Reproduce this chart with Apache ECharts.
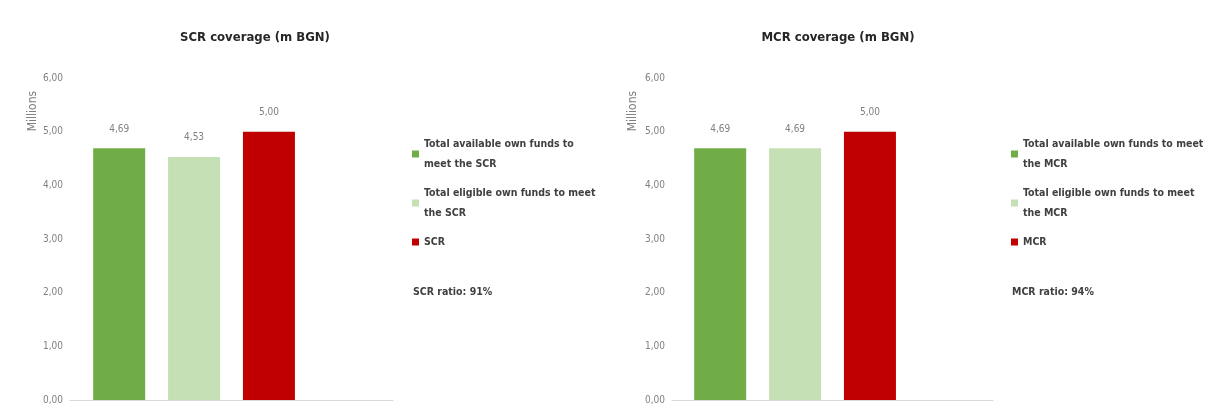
<!DOCTYPE html>
<html>
<head>
<meta charset="utf-8">
<script src="https://cdn.jsdelivr.net/npm/echarts@6/dist/echarts.min.js"></script>
<style>
  html, body { margin: 0; padding: 0; background: #fff; }
  #main { width: 1213px; height: 416px; }
</style>
</head>
<body>
<div id="main"></div>
<script>
// values in millions BGN
const scrNames = ['Total available own funds to meet the SCR', 'Total eligible own funds to meet the SCR', 'SCR'];
const scrValues = [4.69, 4.53, 5.00];
const mcrNames = ['Total available own funds to meet the MCR', 'Total eligible own funds to meet the MCR', 'MCR'];
const mcrValues = [4.69, 4.69, 5.00];
const barColors = ['#70AD47', '#C5E0B4', '#C00000'];
const scrRatio = 'SCR ratio: 91%';
const mcrRatio = 'MCR ratio: 94%';

// line breaks as in the picture
const wraps = {
  'Total available own funds to meet the SCR': 'Total available own funds to\nmeet the SCR',
  'Total eligible own funds to meet the SCR': 'Total eligible own funds to meet\nthe SCR',
  'Total available own funds to meet the MCR': 'Total available own funds to meet\nthe MCR',
  'Total eligible own funds to meet the MCR': 'Total eligible own funds to meet\nthe MCR'
};

const font = "'DejaVu Sans Condensed', 'Liberation Sans', sans-serif";
const fmt = v => v.toFixed(2).replace('.', ',');

function yAxis(idx) {
  return {
    type: 'value', gridIndex: idx, min: 0, max: 6, interval: 1,
    axisLine: { show: false }, axisTick: { show: false },
    splitLine: { show: false },
    axisLabel: { formatter: fmt, color: '#808080', fontSize: 10, fontFamily: font, margin: 7 }
  };
}
function xAxis(idx) {
  return {
    type: 'category', gridIndex: idx, data: [''],
    axisLine: { lineStyle: { color: '#D9D9D9' } },
    axisTick: { show: false }, axisLabel: { show: false }
  };
}
function barSeries(names, values, idx) {
  const s = names.map((n, i) => ({
    name: n, type: 'bar', xAxisIndex: idx, yAxisIndex: idx,
    barWidth: 52, barGap: '44%',
    itemStyle: { color: barColors[i] },
    label: { show: true, position: 'top', distance: 14, formatter: p => fmt(p.value),
             color: '#808080', fontSize: 10, fontFamily: font },
    data: [values[i]]
  }));
  // empty 4th slot (ratio entry of the original legend)
  s.push({ name: 'ratio' + idx, type: 'bar', xAxisIndex: idx, yAxisIndex: idx,
           barWidth: 52, barGap: '44%', data: [null] });
  return s;
}
function legend(names, left) {
  return {
    orient: 'vertical', left: left, top: 134, itemGap: 9, padding: 0,
    itemWidth: 7, itemHeight: 7, icon: 'rect', data: names,
    formatter: n => wraps[n] || n,
    textStyle: { color: '#404040', fontSize: 10.5, fontWeight: 'bold', fontFamily: font, lineHeight: 20 }
  };
}

const chart = echarts.init(document.getElementById('main'));
chart.setOption({
  animation: false,
  title: [
    { text: 'SCR coverage (m BGN)', left: 250, top: 26, textAlign: 'center',
      textStyle: { fontSize: 13, fontWeight: 'bold', color: '#262626', fontFamily: font } },
    { text: 'MCR coverage (m BGN)', left: 833, top: 26, textAlign: 'center',
      textStyle: { fontSize: 13, fontWeight: 'bold', color: '#262626', fontFamily: font } }
  ],
  grid: [
    { left: 70, width: 323, top: 78, bottom: 16 },
    { left: 672, width: 321, top: 78, bottom: 16 }
  ],
  xAxis: [xAxis(0), xAxis(1)],
  yAxis: [yAxis(0), yAxis(1)],
  legend: [legend(scrNames, 412), legend(mcrNames, 1011)],
  graphic: [
    { type: 'text', left: 413, top: 287, style: { text: scrRatio, fill: '#404040', fontSize: 10.5, fontWeight: 'bold', fontFamily: font } },
    { type: 'text', left: 1012, top: 287, style: { text: mcrRatio, fill: '#404040', fontSize: 10.5, fontWeight: 'bold', fontFamily: font } },
    { type: 'text', x: 33, y: 111, rotation: Math.PI / 2,
      style: { text: 'Millions', fill: '#808080', fontSize: 12, fontFamily: font, align: 'center', verticalAlign: 'middle' } },
    { type: 'text', x: 633, y: 111, rotation: Math.PI / 2,
      style: { text: 'Millions', fill: '#808080', fontSize: 12, fontFamily: font, align: 'center', verticalAlign: 'middle' } }
  ],
  series: [...barSeries(scrNames, scrValues, 0), ...barSeries(mcrNames, mcrValues, 1)]
});
</script>
</body>
</html>
